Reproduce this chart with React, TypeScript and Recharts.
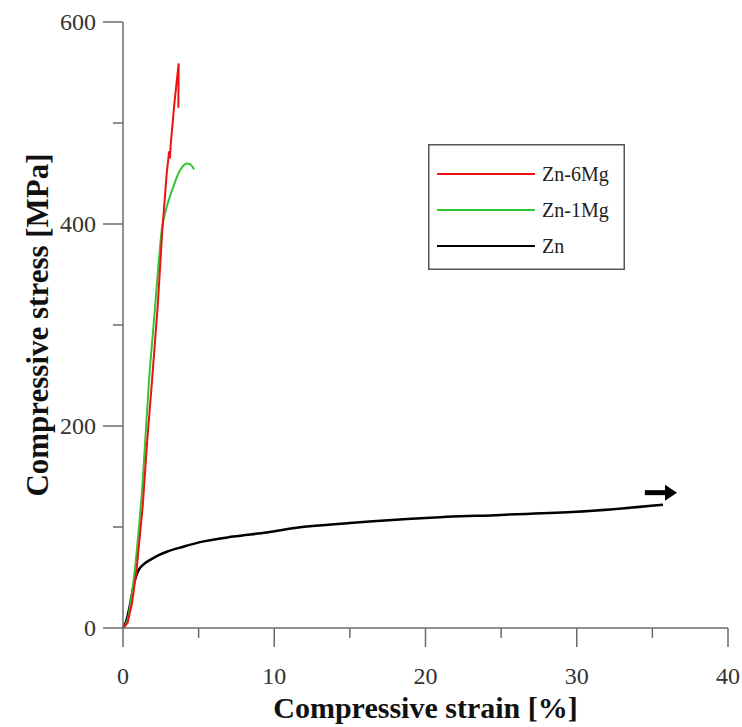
import { LineChart, Line, XAxis, YAxis, Legend } from 'recharts'

// ---------------------------------------------------------------------------
// Compressive stress-strain curves — Zn, Zn-1Mg, Zn-6Mg
// ---------------------------------------------------------------------------

const zn6MgStrain = [0, 0.3, 0.6, 0.9, 1.3, 1.6, 1.92, 2.3, 2.6, 2.89, 3.05, 3.1, 3.15, 3.4, 3.68, 3.66]
const zn6MgStress = [0, 5, 25, 58, 120, 185, 245, 320, 394, 450, 472, 465, 478, 520, 559, 515]

const zn1MgStrain = [0, 0.3, 0.6, 0.9, 1.3, 1.72, 2.05, 2.35, 2.56, 2.8, 3.1, 3.4, 3.66, 3.95, 4.2, 4.45, 4.7]
const zn1MgStress = [0, 8, 35, 75, 145, 245, 305, 360, 394, 412, 427, 440, 450, 457, 460, 459, 454]

const znStrain = [0, 0.2, 0.45, 0.7, 0.9, 1.1, 1.4, 1.8, 2.33, 2.89, 3.99, 5.09, 7.29, 9.5, 11.7, 15, 20, 25, 30, 35.7]
const znStress = [0, 6, 22, 42, 53, 59, 63.5, 67.5, 72, 75.5, 80.5, 85, 90.5, 94.5, 99.7, 104, 109, 112, 115, 122]

const arrowStrain = [34.5, 35.9]
const arrowStress = [134, 134]

const xTicks = [0, 5, 10, 15, 20, 25, 30, 35, 40]
const yTicks = [0, 100, 200, 300, 400, 500, 600]

const seriesNames = ['Zn-6Mg', 'Zn-1Mg', 'Zn']
const seriesColors = ['#ee1111', '#33c633', '#000000']

const toPoints = (xs: number[], ys: number[]) => xs.map((x, i) => ({ x, y: ys[i] }))

const zn6Mg = toPoints(zn6MgStrain, zn6MgStress)
const zn1Mg = toPoints(zn1MgStrain, zn1MgStress)
const zn = toPoints(znStrain, znStress)
const arrow = toPoints(arrowStrain, arrowStress)

const FONT = "'Liberation Serif', 'DejaVu Serif', serif"
const AXIS = '#6b6b6b'
const serif = { fontFamily: FONT, fontWeight: 400 }

const XTick = ({ x, y, payload }: any) => {
  const major = payload.value % 10 === 0
  return (
    <g>
      <line x1={x} y1={y} x2={x} y2={y + (major ? 19 : 10)} stroke={AXIS} strokeWidth={1.5} />
      {major && (
        <text x={x} y={y + 56} textAnchor="middle" style={serif} fontSize={24} fill="#333">
          {payload.value}
        </text>
      )}
    </g>
  )
}

const YTick = ({ x, y, payload }: any) => {
  const major = payload.value % 200 === 0
  return (
    <g>
      <line x1={x} y1={y} x2={x - (major ? 20 : 10)} y2={y} stroke={AXIS} strokeWidth={1.5} />
      {major && (
        <text x={x - 27} y={y} dy="0.35em" textAnchor="end" style={serif} fontSize={24} fill="#333">
          {payload.value}
        </text>
      )}
    </g>
  )
}

const ArrowHead = ({ cx, cy, index }: any) => {
  if (index !== 1) return <g key={`a-${index}`} />
  return (
    <polygon
      key={`a-${index}`}
      points={`${cx - 1},${cy - 8} ${cx + 11},${cy} ${cx - 1},${cy + 8}`}
      fill="#000"
    />
  )
}

const LegendBox = () => (
  <svg width={197} height={126} style={{ display: 'block' }}>
    <rect x={0.75} y={0.75} width={195.5} height={124.5} fill="#fff" stroke="#555" strokeWidth={1.5} />
    {seriesNames.map((name, i) => (
      <g key={name}>
        <line x1={9} x2={107} y1={30 + i * 36} y2={30 + i * 36} stroke={seriesColors[i]} strokeWidth={2} />
        <text x={114} y={30 + i * 36} dy="0.35em" style={serif} fontSize={20} fill="#222">
          {name}
        </text>
      </g>
    ))}
  </svg>
)

export default function App() {
  return (
    <div style={{ position: 'absolute', left: 0, top: 0, background: '#fff', fontFamily: FONT }}>
      <LineChart width={742} height={727} margin={{ top: 22, right: 14, bottom: 0, left: 0 }}>
        <XAxis
          type="number"
          dataKey="x"
          domain={[0, 40]}
          ticks={xTicks}
          interval={0}
          height={99}
          tickSize={0}
          tickMargin={0}
          tickLine={false}
          tick={<XTick />}
          stroke={AXIS}
          strokeWidth={1.5}
          label={{
            content: ({ viewBox }: any) => (
              <text
                x={viewBox.x + viewBox.width / 2}
                y={718}
                textAnchor="middle"
                style={{ fontFamily: FONT, fontWeight: 700 }}
                fontSize={30}
                fill="#111"
              >
                Compressive strain [%]
              </text>
            ),
          }}
        />
        <YAxis
          type="number"
          dataKey="y"
          domain={[0, 600]}
          ticks={yTicks}
          interval={0}
          width={123}
          tickSize={0}
          tickMargin={0}
          tickLine={false}
          tick={<YTick />}
          stroke={AXIS}
          strokeWidth={1.5}
          label={{
            content: ({ viewBox }: any) => {
              const cx = 37
              const cy = viewBox.y + viewBox.height / 2
              return (
                <text
                  x={cx}
                  y={cy}
                  dy="0.35em"
                  transform={`rotate(-90 ${cx} ${cy})`}
                  textAnchor="middle"
                  style={{ fontFamily: FONT, fontWeight: 700 }}
                  fontSize={31}
                  fill="#111"
                >
                  Compressive stress [MPa]
                </text>
              )
            },
          }}
        />
        <Legend
          layout="horizontal"
          verticalAlign="middle"
          align="center"
          wrapperStyle={{ left: 428, top: 144, width: 197, height: 126 }}
          content={() => <LegendBox />}
        />
        <Line data={zn} dataKey="y" name="Zn" type="monotone" stroke={seriesColors[2]} strokeWidth={2.5} dot={false} isAnimationActive={false} />
        <Line data={zn1Mg} dataKey="y" name="Zn-1Mg" type="monotone" stroke={seriesColors[1]} strokeWidth={2} dot={false} isAnimationActive={false} />
        <Line data={zn6Mg} dataKey="y" name="Zn-6Mg" type="linear" stroke={seriesColors[0]} strokeWidth={2} dot={false} isAnimationActive={false} />
        <Line data={arrow} dataKey="y" name="arrow" type="linear" stroke="#000" strokeWidth={5} dot={<ArrowHead />} legendType="none" isAnimationActive={false} />
      </LineChart>
    </div>
  )
}
